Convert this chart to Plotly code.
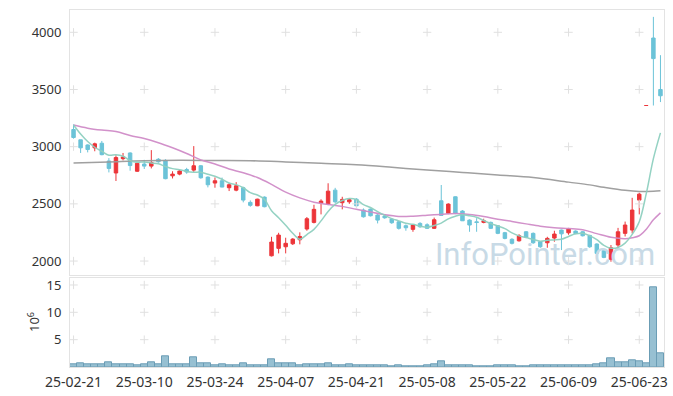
import plotly.graph_objects as go

# ---------------- data ----------------
dates = ["25-02-21","25-02-24","25-02-25","25-02-26","25-02-27","25-02-28",
         "25-03-04","25-03-05","25-03-06","25-03-07",
         "25-03-10","25-03-11","25-03-12","25-03-13","25-03-14",
         "25-03-17","25-03-18","25-03-19","25-03-20","25-03-21",
         "25-03-24","25-03-25","25-03-26","25-03-27","25-03-28",
         "25-03-31","25-04-01","25-04-02","25-04-03","25-04-04",
         "25-04-07","25-04-08","25-04-09","25-04-10","25-04-11",
         "25-04-14","25-04-15","25-04-16","25-04-17","25-04-18",
         "25-04-21","25-04-22","25-04-23","25-04-24","25-04-25",
         "25-04-28","25-04-29","25-04-30","25-05-02","25-05-07",
         "25-05-08","25-05-09","25-05-12","25-05-13","25-05-14",
         "25-05-15","25-05-16","25-05-19","25-05-20","25-05-21",
         "25-05-22","25-05-23","25-05-26","25-05-27","25-05-28",
         "25-05-29","25-05-30","25-06-02","25-06-04","25-06-05",
         "25-06-09","25-06-10","25-06-11","25-06-12","25-06-13",
         "25-06-16","25-06-17","25-06-18","25-06-19","25-06-20",
         "25-06-23","25-06-24","25-06-25","25-06-26"]

opens = [3150,3060,3015,2990,3030,2875,2770,2895,2945,2785,
         2848,2830,2890,2880,2745,2760,2800,2795,2833,2734,
         2682,2702,2641,2620,2641,2513,2483,2559,2046,2111,
         2125,2151,2186,2280,2338,2507,2495,2620,2510,2518,
         2541,2446,2454,2402,2393,2367,2343,2309,2277,2329,
         2317,2286,2527,2417,2562,2437,2358,2343,2338,2338,
         2309,2248,2190,2177,2256,2242,2169,2160,2201,2271,
         2247,2262,2256,2224,2149,2090,2015,2140,2242,2271,
         2533,3360,3950,3500]
highs = [3195,3060,3020,3035,3050,2900,2925,2945,2950,2860,
         2885,2970,2900,2890,2785,2795,2815,3005,2840,2740,
         2731,2730,2681,2690,2650,2530,2545,2565,2212,2247,
         2204,2200,2251,2385,2492,2540,2680,2640,2562,2550,
         2550,2460,2460,2410,2410,2375,2350,2320,2320,2340,
         2330,2380,2665,2505,2565,2445,2365,2375,2370,2345,
         2315,2255,2200,2235,2262,2250,2175,2212,2265,2275,
         2290,2268,2262,2230,2155,2095,2140,2290,2345,2553,
         2597,3360,4135,3800]
lows = [3070,2945,2950,2960,2925,2775,2700,2880,2790,2780,
        2805,2810,2860,2715,2722,2750,2763,2780,2720,2644,
        2641,2645,2612,2610,2513,2475,2480,2470,2040,2067,
        2067,2140,2146,2265,2329,2408,2489,2505,2452,2500,
        2480,2380,2390,2329,2370,2325,2275,2265,2256,2290,
        2280,2280,2395,2410,2410,2350,2256,2256,2330,2280,
        2235,2190,2145,2170,2200,2150,2115,2116,2169,2096,
        2230,2235,2215,2115,2060,2025,1994,2110,2215,2242,
        2408,3360,3360,3390]
closes = [3080,2990,2975,3025,2930,2810,2905,2910,2835,2855,
          2830,2862,2868,2720,2760,2787,2778,2833,2728,2667,
          2702,2647,2667,2658,2533,2487,2541,2475,2166,2227,
          2155,2192,2215,2370,2452,2524,2611,2518,2539,2536,
          2483,2387,2396,2358,2378,2335,2286,2291,2315,2300,
          2286,2361,2399,2498,2415,2352,2315,2337,2352,2286,
          2242,2198,2155,2221,2207,2160,2125,2198,2236,2238,
          2280,2240,2221,2125,2067,2032,2116,2256,2315,2446,
          2585,3360,3770,3445]
# volume in millions of shares
volume = [0.55,0.7,0.45,0.55,0.55,0.9,0.55,0.45,0.45,0.25,
          0.45,0.9,0.45,2.0,0.45,0.45,0.45,1.7,0.75,0.6,
          0.25,0.45,0.25,0.25,0.6,0.25,0.25,0.25,1.4,0.6,
          0.6,0.6,0.25,0.45,0.45,0.45,0.6,0.25,0.25,0.45,
          0.25,0.25,0.25,0.25,0.25,0.05,0.25,0.05,0.05,0.05,
          0.25,0.45,1.1,0.25,0.25,0.25,0.25,0.05,0.05,0.05,
          0.25,0.25,0.25,0.05,0.05,0.25,0.25,0.25,0.25,0.25,
          0.25,0.25,0.25,0.25,0.45,0.6,1.6,0.9,0.9,1.2,
          1.0,0.7,14.5,2.5]
ma5 = [3189,3110,3045,2995,2960,2925,2929,2916,2878,2863,
       2867,2858,2850,2827,2808,2799,2783,2776,2777,2759,
       2742,2715,2682,2668,2641,2598,2577,2539,2440,2379,
       2313,2243,2191,2232,2277,2351,2434,2495,2529,2546,
       2537,2493,2468,2432,2400,2371,2351,2330,2321,2305,
       2296,2311,2332,2369,2392,2405,2396,2383,2354,2328,
       2306,2283,2247,2220,2205,2188,2174,2182,2185,2191,
       2215,2238,2243,2221,2187,2137,2112,2119,2157,2233,
       2344,2592,2895,3121]
ma20_idx = [0,2,4,6,8,10,12,14,16,18,20,22,24,26,28,30,32,34,36,38,40,42,44,46,
            48,50,52,54,56,58,60,62,64,66,68,70,72,74,76,78,79,80,81,82,83]
ma20_val = [3189,3162,3145,3133,3098,3072,3035,2990,2940,2885,2848,2805,2772,2730,
            2670,2602,2552,2515,2495,2478,2452,2428,2405,2390,2392,2400,2408,2415,
            2408,2390,2366,2346,2325,2305,2292,2284,2274,2240,2208,2196,2204,2221,
            2279,2360,2421]
ma120_idx = [0,5,10,15,20,25,30,35,40,45,50,55,60,65,70,73,75,78,80,82,83]
ma120_val = [2857,2867,2877,2881,2879,2877,2867,2855,2842,2820,2795,2775,2752,2730,
             2690,2666,2645,2618,2608,2610,2614]
tick_idx = [0,10,20,30,40,50,60,70,80]
price_ticks = [2000,2500,3000,3500,4000]
vol_ticks = [5,10,15]
watermark = "InfoPointer.com"

# ---------------- style ----------------
RED = "#ec3539"
BLUE = "#6bc3d8"
GRID = "#e0e0e0"
BORDER = "#e3e3e3"
TXT = "#333333"
W, H = 673, 396
ML, MR, MT, MB = 70, 9, 10, 29
PW, PH = W - ML - MR, H - MT - MB
P_LO, P_HI = 1878, 4195


def py(p):  # pixel y -> paper y
    return (H - MB - p) / PH


def px(p):
    return (p - ML) / PW


idx = list(range(len(dates)))
xr = [-0.5, len(dates) - 0.5]
fig = go.Figure()

# watermark behind the marks (pixel placement converted to axis units)
wm_x = xr[0] + (545 - ML) / PW * (xr[1] - xr[0])
wm_y = P_LO + (275 - 257) / (275 - MT) * (P_HI - P_LO)
fig.add_trace(go.Scatter(x=[wm_x], y=[wm_y], mode="text", text=[watermark],
                         textfont=dict(family="Roboto", size=31, color="#c8dae6"),
                         textposition="middle center", hoverinfo="skip", showlegend=False,
                         cliponaxis=False, xaxis="x", yaxis="y"))

# grid crosses
cx, cy, cx2, cy2 = [], [], [], []
for t in tick_idx:
    for v in price_ticks:
        cx.append(t); cy.append(v)
    for v in vol_ticks:
        cx2.append(t); cy2.append(v)
cross = dict(symbol="cross-thin", size=6, line=dict(color=GRID, width=1), color=GRID)
fig.add_trace(go.Scatter(x=cx, y=cy, mode="markers", marker=cross, hoverinfo="skip",
                         showlegend=False, xaxis="x", yaxis="y"))
fig.add_trace(go.Scatter(x=cx2, y=cy2, mode="markers", marker=cross, hoverinfo="skip",
                         showlegend=False, xaxis="x2", yaxis="y2"))

fig.add_trace(go.Candlestick(
    x=idx, open=opens, high=highs, low=lows, close=closes,
    increasing=dict(line=dict(color=RED, width=1), fillcolor=RED),
    decreasing=dict(line=dict(color=BLUE, width=1), fillcolor=BLUE),
    whiskerwidth=0, showlegend=False, xaxis="x", yaxis="y"))

fig.add_trace(go.Scatter(x=ma120_idx, y=ma120_val, mode="lines",
                         line=dict(color="#9b9b9b", width=1.5, shape="spline"),
                         showlegend=False, xaxis="x", yaxis="y", opacity=0.95))
fig.add_trace(go.Scatter(x=ma20_idx, y=ma20_val, mode="lines",
                         line=dict(color="#d08cc8", width=1.5, shape="spline"),
                         showlegend=False, xaxis="x", yaxis="y", opacity=0.95))
fig.add_trace(go.Scatter(x=idx, y=ma5, mode="lines",
                         line=dict(color="#8fd0c0", width=1.5, shape="spline"),
                         showlegend=False, xaxis="x", yaxis="y", opacity=0.95))

fig.add_trace(go.Bar(x=idx, y=volume,
                     marker=dict(color="#97c0d2", line=dict(color="#6b9db5", width=1)),
                     showlegend=False, xaxis="x2", yaxis="y2"))

axis_common = dict(showline=True, linecolor=BORDER, linewidth=1, mirror=True,
                   showgrid=False, zeroline=False, automargin=False)
fig.update_layout(
    template="none",
    width=W, height=H, margin=dict(l=ML, r=MR, t=MT, b=MB, pad=0),
    paper_bgcolor="white", plot_bgcolor="white", bargap=0,
    font=dict(family="Noto Sans", color=TXT, size=13),
    xaxis=dict(domain=[0, 1], anchor="y", range=xr, tickvals=tick_idx, showticklabels=False,
               rangeslider=dict(visible=False), ticks="", **axis_common),
    yaxis=dict(domain=[py(275), 1], anchor="x", range=[P_LO, P_HI], tickvals=price_ticks,
               ticks="", ticklabelstandoff=5, tickfont=dict(size=13), **axis_common),
    xaxis2=dict(domain=[0, 1], anchor="y2", range=xr, matches="x", tickvals=tick_idx,
                ticktext=[dates[i] for i in tick_idx], ticks="", ticklabelstandoff=2,
                tickfont=dict(size=14), **axis_common),
    yaxis2=dict(domain=[0, py(278.3)], anchor="x2", range=[0, 16.22], tickvals=vol_ticks,
                ticks="", ticklabelstandoff=5, tickfont=dict(size=13), **axis_common),
    annotations=[
        dict(text="10<sup>6</sup>", x=px(33), y=py(322), xref="paper", yref="paper",
             xanchor="center", yanchor="middle",
             showarrow=False, textangle=-90, font=dict(size=13, color=TXT)),
    ],
)

fig.write_html("out.html", config={"displayModeBar": False},
               post_script="document.body.style.margin='0';document.body.style.overflow='hidden';")
